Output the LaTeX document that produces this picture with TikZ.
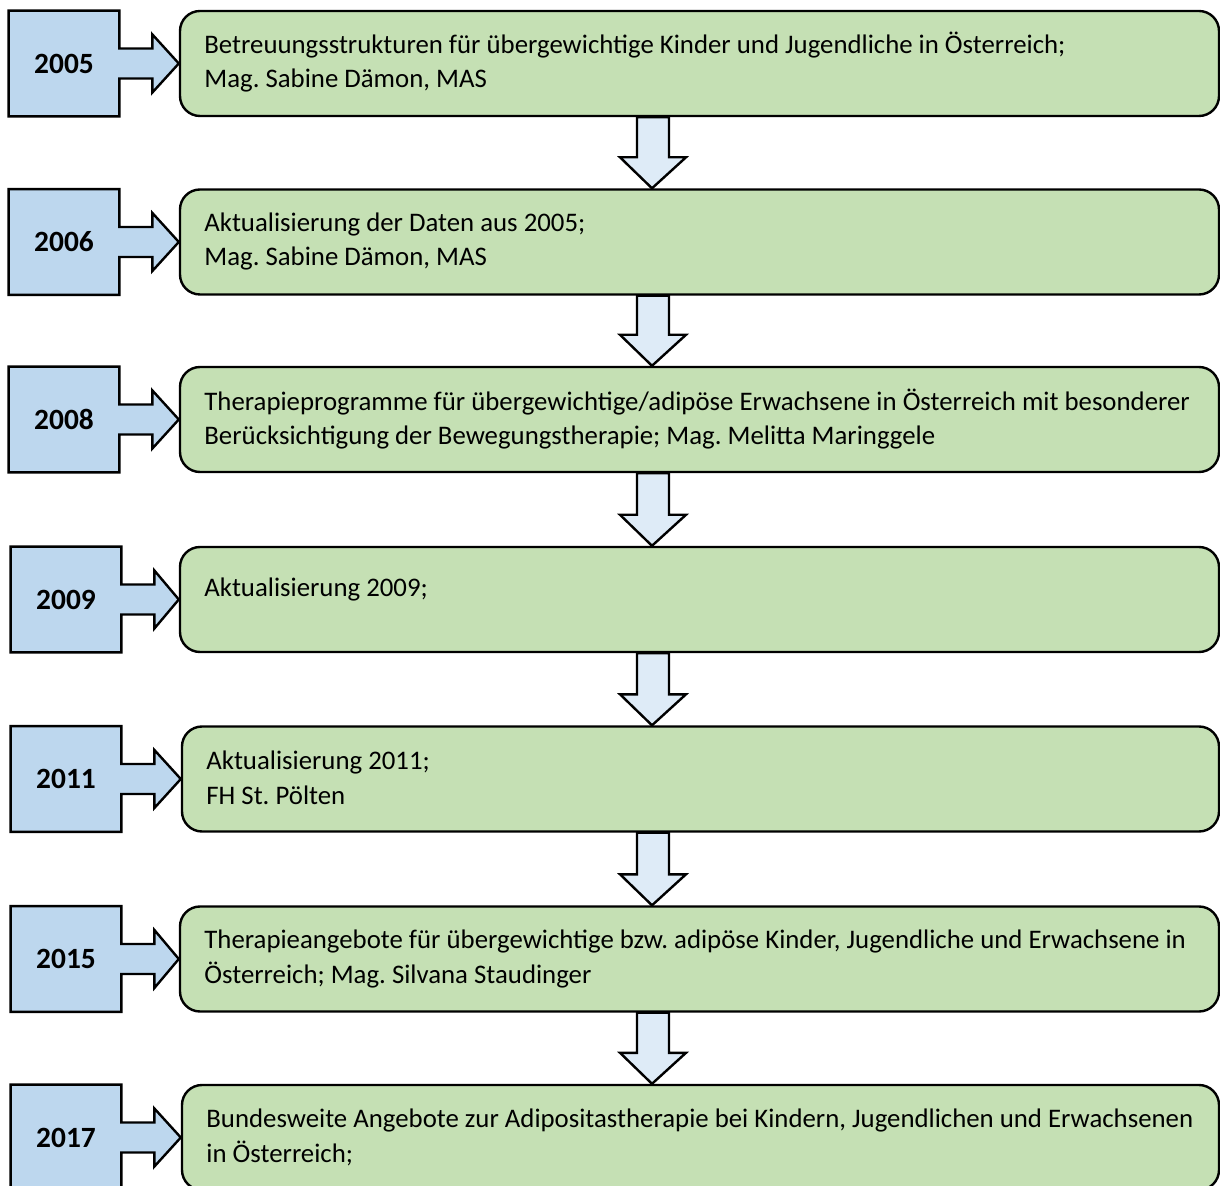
\documentclass[tikz,border=0pt]{standalone}
\usepackage{fontspec}
\setmainfont{Carlito}
\usetikzlibrary{calc,backgrounds}
\definecolor{yearblue}{HTML}{BDD7EE}
\definecolor{boxgreen}{HTML}{C5E0B4}
\definecolor{arrowblue}{HTML}{DEEBF7}
\tikzset{
  yearbox/.style={minimum width=55pt, minimum height=52.5pt, inner sep=0pt,
    font=\bfseries\fontsize{14.7}{17}\selectfont},
  gbox/.style={draw, line width=1.2pt, fill=boxgreen, rounded corners=10pt,
    minimum height=52.5pt, inner sep=0pt},
  callout/.style={draw, line width=1.2pt, fill=yearblue, line join=miter},
  darrow/.style={draw, line width=1.2pt, fill=arrowblue, line join=miter},
  txt/.style={inner sep=0pt, align=left, anchor=base west,
    font=\frenchspacing\fontsize{13.4}{17.2}\selectfont}
}
\newcommand\mycallout[2]{%
  \begin{scope}[on background layer]
  \draw[callout] (#1.north west) -- (#1.north east) -- ($(#1.east)+(0,-15)$)
    -- ($(#1.east)+(33,-15)$) -- ($(#1.east)+(33,-29)$) -- (#2.west |- #1.east)
    -- ($(#1.east)+(33,29)$) -- ($(#1.east)+(33,15)$) -- ($(#1.east)+(0,15)$)
    -- (#1.south east) -- (#1.south west) -- cycle;
  \end{scope}}
\newcommand\mydownarrow[2]{%
  \path[darrow] let \p1=(#1.south), \p2=(#2.north) in
    (318.5pt,\y1) -- (334.5pt,\y1) -- (334.5pt,\y2+15.5pt) -- (343pt,\y2+15.5pt)
    -- (326pt,\y2) -- (310pt,\y2+15.5pt) -- (318.5pt,\y2+15.5pt) -- cycle;}
\begin{document}
\begin{tikzpicture}[x=0.5pt,y=-0.5pt]
\useasboundingbox (0,0) rectangle (1220,1186);

% green boxes
\node[gbox, minimum width=519.5pt] (g1) at (699.5,63.5) {};
\node[gbox, minimum width=519.5pt] (g2) at (699.5,242) {};
\node[gbox, minimum width=519.5pt] (g3) at (699.5,419.5) {};
\node[gbox, minimum width=519.5pt] (g4) at (699.5,599.5) {};
\node[gbox, minimum width=518.5pt] (g5) at (700.5,779) {};
\node[gbox, minimum width=519.5pt] (g6) at (699.5,959) {};
\node[gbox, minimum width=518.5pt] (g7) at (700.5,1137.5) {};

% year boxes
\node[yearbox] (y1) at (64,63.5) {2005};
\node[yearbox] (y2) at (64,242) {2006};
\node[yearbox] (y3) at (64,419.5) {2008};
\node[yearbox] (y4) at (66,599.5) {2009};
\node[yearbox] (y5) at (66,779) {2011};
\node[yearbox] (y6) at (66,959) {2015};
\node[yearbox] (y7) at (66,1137.5) {2017};

\mycallout{y1}{g1}
\mycallout{y2}{g2}
\mycallout{y3}{g3}
\mycallout{y4}{g4}
\mycallout{y5}{g5}
\mycallout{y6}{g6}
\mycallout{y7}{g7}

% down arrows
\mydownarrow{g1}{g2}
\mydownarrow{g2}{g3}
\mydownarrow{g3}{g4}
\mydownarrow{g4}{g5}
\mydownarrow{g5}{g6}
\mydownarrow{g6}{g7}

% texts (anchor = baseline of last line)
\node[txt] (t1) at (204,88) {Betreuungsstrukturen für übergewichtige Kinder und Jugendliche in Österreich;\\Mag. Sabine Dämon, MAS};
\node[txt] (t2) at (204,266) {Aktualisierung der Daten aus 2005;\\Mag. Sabine Dämon, MAS};
\node[txt] (t3) at (204,445) {Therapieprogramme für übergewichtige/adipöse Erwachsene in Österreich mit besonderer\\Berücksichtigung der Bewegungstherapie; Mag. Melitta Maringgele};
\node[txt] (t4) at (204,597) {Aktualisierung 2009;};
\node[txt] (t5) at (206,804) {Aktualisierung 2011;\\FH St. Pölten};
\node[txt] (t6) at (204,983) {Therapieangebote für übergewichtige bzw. adipöse Kinder, Jugendliche und Erwachsene in\\Österreich; Mag. Silvana Staudinger};
\node[txt] (t7) at (206,1162) {Bundesweite Angebote zur Adipositastherapie bei Kindern, Jugendlichen und Erwachsenen\\in Österreich;};
\end{tikzpicture}
\end{document}
